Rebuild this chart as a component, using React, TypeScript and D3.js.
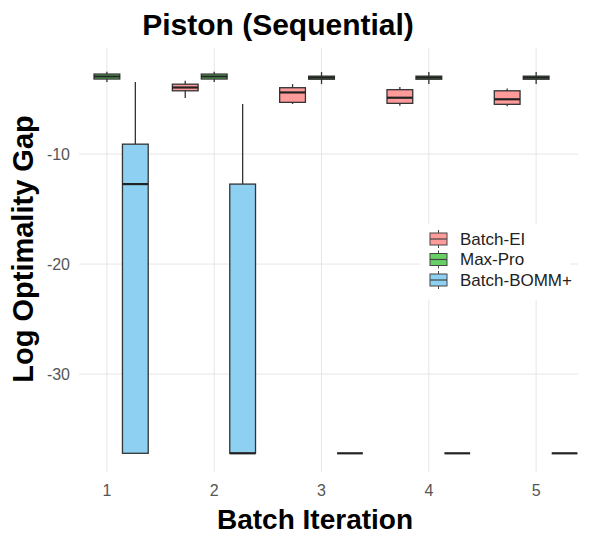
import { useEffect, useRef } from "react";
import * as d3 from "d3";

// box stats per iteration: [lower whisker, q1, median, q3, upper whisker]
const iterations = [1, 2, 3, 4, 5];
const methods = ["Batch-EI", "Max-Pro", "Batch-BOMM+"];
const colors = ["#FF9B9B", "#66D066", "#8ED0F2"];
const offsets = [-0.27, 0, 0.265];

const batchEI = [
  null,
  [-4.9, -4.25, -3.95, -3.65, -3.34],
  [-5.45, -5.3, -4.4, -3.97, -3.64],
  [-5.6, -5.39, -4.88, -4.15, -3.9],
  [-5.66, -5.48, -5.02, -4.25, -4.03],
];
const maxPro = [
  [-3.45, -3.18, -2.95, -2.73, -2.52],
  [-3.45, -3.18, -2.95, -2.73, -2.52],
  [-3.64, -3.2, -3.05, -2.92, -2.55],
  [-3.64, -3.2, -3.05, -2.92, -2.55],
  [-3.64, -3.2, -3.05, -2.92, -2.55],
];
const batchBOMM = [
  [-37.2, -37.2, -12.73, -9.1, -3.45],
  [-37.2, -37.2, -37.2, -12.73, -5.45],
  [-37.2, -37.2, -37.2, -37.2, -37.2],
  [-37.2, -37.2, -37.2, -37.2, -37.2],
  [-37.2, -37.2, -37.2, -37.2, -37.2],
];
const yTicks = [-10, -20, -30];

export default function App() {
  const svgRef = useRef(null);
  const width = 589;
  const height = 537;

  useEffect(() => {
    const svg = d3.select(svgRef.current);
    svg.selectAll("*").remove();

    const x = d3.scaleLinear().domain([0.74, 5.39]).range([79, 578]);
    const y = d3.scaleLinear().domain([-38.9, -0.36]).range([472, 48]);
    const font = "'Liberation Sans', Arial, sans-serif";

    // grid
    const grid = svg.append("g").attr("stroke", "#e6e6e6").attr("stroke-width", 1);
    grid.selectAll("line.h")
      .data(yTicks)
      .join("line")
      .attr("x1", x.range()[0]).attr("x2", x.range()[1])
      .attr("y1", d => y(d)).attr("y2", d => y(d));
    grid.selectAll("line.v")
      .data(iterations)
      .join("line")
      .attr("class", "v")
      .attr("x1", d => x(d)).attr("x2", d => x(d))
      .attr("y1", y.range()[1]).attr("y2", y.range()[0]);

    const bw = x(0.24) - x(0);
    const series = [batchEI, maxPro, batchBOMM];

    series.forEach((s, mi) => {
      const g = svg.append("g");
      s.forEach((st, i) => {
        if (!st) return;
        const cx = x(iterations[i] + offsets[mi]);
        const [lo, q1, med, q3, hi] = st;
        g.append("line")
          .attr("x1", cx).attr("x2", cx)
          .attr("y1", y(hi)).attr("y2", y(lo))
          .attr("stroke", "#333").attr("stroke-width", 1.3);
        g.append("rect")
          .attr("x", cx - bw / 2).attr("width", bw)
          .attr("y", y(q3)).attr("height", Math.max(0, y(q1) - y(q3)))
          .attr("fill", colors[mi])
          .attr("stroke", "#333").attr("stroke-width", 1.3);
        g.append("line")
          .attr("x1", cx - bw / 2).attr("x2", cx + bw / 2)
          .attr("y1", y(med)).attr("y2", y(med))
          .attr("stroke", "#222").attr("stroke-width", 2.2);
      });
    });

    // axes text
    svg.append("g")
      .selectAll("text")
      .data(yTicks)
      .join("text")
      .attr("x", 70).attr("y", d => y(d))
      .attr("dy", "0.35em")
      .attr("text-anchor", "end")
      .attr("font-family", font).attr("font-size", 16)
      .attr("fill", "#555")
      .text(d => d);

    svg.append("g")
      .selectAll("text")
      .data(iterations)
      .join("text")
      .attr("x", d => x(d)).attr("y", 496)
      .attr("text-anchor", "middle")
      .attr("font-family", font).attr("font-size", 16)
      .attr("fill", "#555")
      .text(d => d);

    svg.append("text")
      .attr("x", 278).attr("y", 35)
      .attr("text-anchor", "middle")
      .attr("font-family", font).attr("font-size", 30).attr("font-weight", "bold")
      .text("Piston (Sequential)");

    svg.append("text")
      .attr("x", 315).attr("y", 529)
      .attr("text-anchor", "middle")
      .attr("font-family", font).attr("font-size", 28).attr("font-weight", "bold")
      .text("Batch Iteration");

    svg.append("text")
      .attr("transform", "translate(33,249) rotate(-90)")
      .attr("text-anchor", "middle")
      .attr("font-family", font).attr("font-size", 29).attr("font-weight", "bold")
      .text("Log Optimality Gap");

    // legend
    const leg = svg.append("g").attr("transform", "translate(420,224)");
    leg.append("rect").attr("width", 150).attr("height", 76).attr("fill", "white");
    methods.forEach((m, i) => {
      const row = leg.append("g").attr("transform", `translate(0,${15 + i * 20.5})`);
      row.append("line")
        .attr("x1", 18.5).attr("x2", 18.5).attr("y1", -9).attr("y2", 9)
        .attr("stroke", "#444").attr("stroke-width", 1);
      row.append("rect")
        .attr("x", 10).attr("y", -6).attr("width", 17).attr("height", 12)
        .attr("fill", colors[i]).attr("stroke", "#444").attr("stroke-width", 1);
      row.append("line")
        .attr("x1", 10).attr("x2", 27).attr("y1", 0).attr("y2", 0)
        .attr("stroke", "#444").attr("stroke-width", 1.2);
      row.append("text")
        .attr("x", 40).attr("y", 0).attr("dy", "0.35em")
        .attr("font-family", font).attr("font-size", 17)
        .attr("fill", "#222")
        .text(m);
    });
  }, []);

  return (
    <svg
      ref={svgRef}
      width={width}
      height={height}
      style={{ position: "absolute", left: 0, top: 0, background: "white" }}
    />
  );
}
